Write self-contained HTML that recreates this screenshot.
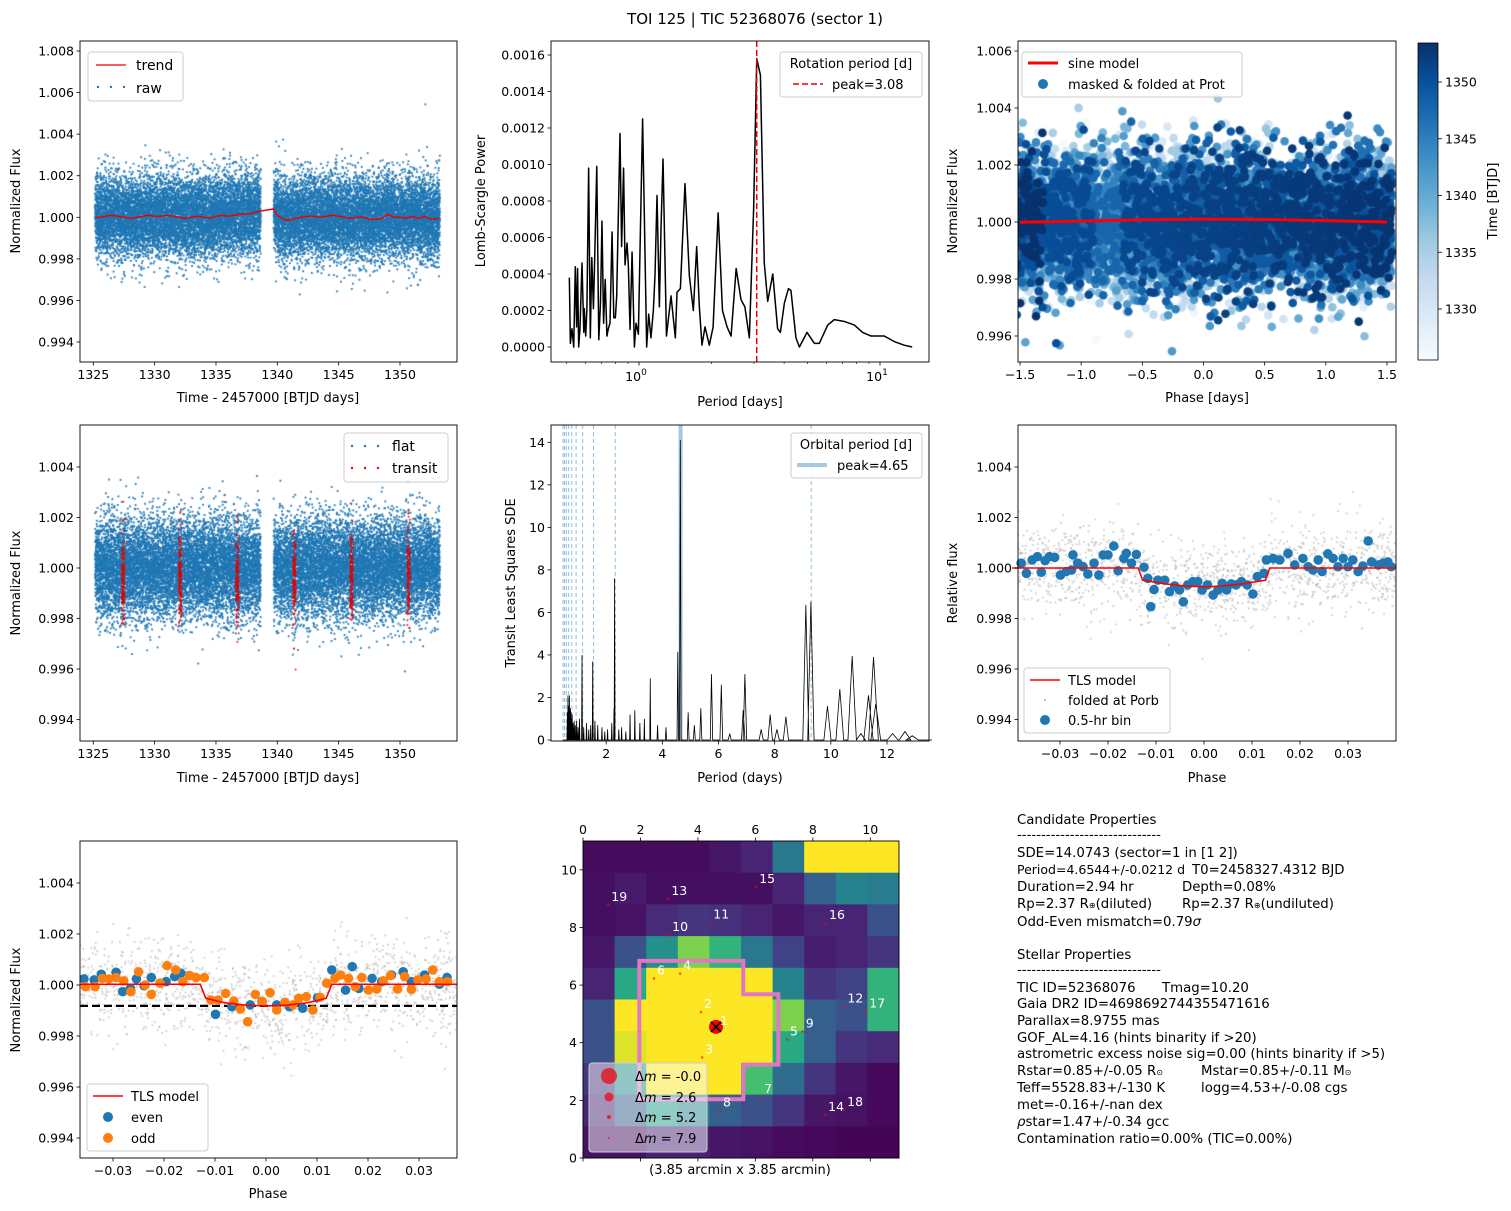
<!DOCTYPE html>
<html><head><meta charset="utf-8">
<style>
body{margin:0;background:#fff;width:1511px;height:1211px;overflow:hidden;position:relative;font-family:"DejaVu Sans","Liberation Sans",sans-serif}
canvas,svg{position:absolute;left:0;top:0}
svg text{font-family:"DejaVu Sans","Liberation Sans",sans-serif}
</style></head>
<body>
<canvas id="cv" width="1511" height="1211"></canvas>
<svg id="fig" width="1511" height="1211" xmlns="http://www.w3.org/2000/svg">
<defs>
<linearGradient id="blues" x1="0" y1="1" x2="0" y2="0">
<stop offset="0" stop-color="#f7fbff"/><stop offset="0.125" stop-color="#deebf7"/><stop offset="0.25" stop-color="#c6dbef"/><stop offset="0.375" stop-color="#9ecae1"/><stop offset="0.5" stop-color="#6baed6"/><stop offset="0.625" stop-color="#4292c6"/><stop offset="0.75" stop-color="#2171b5"/><stop offset="0.875" stop-color="#08519c"/><stop offset="1" stop-color="#08306b"/>
</linearGradient>
<clipPath id="clip7"><rect x="80" y="841" width="377" height="317"/></clipPath>
</defs>
<text x="755" y="24" font-size="15" text-anchor="middle">TOI 125 | TIC 52368076 (sector 1)</text>
<g font-size="13.3">
<text x="1017" y="824">Candidate Properties</text>
<text x="1017" y="839">------------------------------</text>
<text x="1017" y="857">SDE=14.0743 (sector=1 in [1 2])</text>
<text x="1017" y="874" font-size="12.5">Period=4.6544+/-0.0212 d</text>
<text x="1192" y="874">T0=2458327.4312 BJD</text>
<text x="1017" y="891">Duration=2.94 hr<tspan x="1182">Depth=0.08%</tspan></text>
<text x="1017" y="908">Rp=2.37 R<tspan font-size="8">⊕</tspan>(diluted)<tspan x="1182">Rp=2.37 R</tspan><tspan font-size="8">⊕</tspan>(undiluted)</text>
<text x="1017" y="926">Odd-Even mismatch=0.79<tspan font-style="italic">σ</tspan></text>
<text x="1017" y="959">Stellar Properties</text>
<text x="1017" y="974">------------------------------</text>
<text x="1017" y="992">TIC ID=52368076<tspan x="1162">Tmag=10.20</tspan></text>
<text x="1017" y="1008">Gaia DR2 ID=4698692744355471616</text>
<text x="1017" y="1025">Parallax=8.9755 mas</text>
<text x="1017" y="1042">GOF_AL=4.16 (hints binarity if &gt;20)</text>
<text x="1017" y="1058">astrometric excess noise sig=0.00 (hints binarity if &gt;5)</text>
<text x="1017" y="1075">Rstar=0.85+/-0.05 R<tspan font-size="8">⊙</tspan><tspan x="1201">Mstar=0.85+/-0.11 M</tspan><tspan font-size="8">⊙</tspan></text>
<text x="1017" y="1092">Teff=5528.83+/-130 K<tspan x="1201">logg=4.53+/-0.08 cgs</tspan></text>
<text x="1017" y="1109">met=-0.16+/-nan dex</text>
<text x="1017" y="1126"><tspan font-style="italic">ρ</tspan>star=1.47+/-0.34 gcc</text>
<text x="1017" y="1143">Contamination ratio=0.00% (TIC=0.00%)</text>
</g>
</svg>
<script>
// ---------- data ----------
const trendTime=[1325.2,1325.5,1326,1326.5,1327,1327.5,1328,1328.5,1329,1329.5,1330,1330.5,1331,1331.5,1332,1332.5,1333,1333.5,1334,1334.5,1335,1335.5,1336,1336.5,1337,1337.5,1338,1338.6,1339.7,1340,1340.5,1341,1341.5,1342,1342.5,1343,1343.5,1344,1344.5,1345,1345.5,1346,1346.5,1347,1347.5,1348,1348.5,1349,1349.5,1350,1350.5,1351,1351.5,1352,1352.5,1353.2];
const trendVal=[0,0,0.5,1,0.5,0,-0.5,0,0.5,1,0.5,0.5,1,0.5,0,-0.5,0,0.5,0,-0.5,0.5,1,0.5,1,1.5,1.5,2,3,4,1,-1,-1.5,-0.5,0,0.5,0.5,0,0.5,1,0.5,0,-0.5,0,0,-1,-1,-0.5,1.5,0,0,-0.5,0.5,-0.5,0.5,-1,-0.5];
const lsPeriod=[0.514,0.519,0.527,0.536,0.544,0.551,0.556,0.562,0.569,0.580,0.590,0.593,0.601,0.608,0.618,0.628,0.637,0.647,0.655,0.668,0.681,0.692,0.702,0.713,0.724,0.736,0.746,0.758,0.773,0.786,0.798,0.808,0.834,0.847,0.863,0.875,0.892,0.903,0.918,0.936,0.957,0.972,0.994,1.035,1.076,1.097,1.121,1.147,1.165,1.188,1.215,1.234,1.258,1.30,1.358,1.415,1.438,1.485,1.552,1.618,1.681,1.735,1.780,1.825,1.879,1.958,2.03,2.13,2.22,2.32,2.41,2.53,2.65,2.75,2.87,2.99,3.08,3.19,3.31,3.42,3.59,3.76,3.86,4.01,4.17,4.27,4.48,4.63,4.98,5.34,5.60,6.07,6.46,7.11,7.83,8.47,9.18,10.42,11.46,12.6,13.6];
const lsPower=[3.8,0.2,1.0,0.0,4.4,1.1,4.3,0.0,1.0,4.6,0.8,2.1,0.6,2.1,9.8,0.5,4.9,2.1,4.9,9.9,0.4,2.4,6.9,1.3,3.7,0.6,1.0,1.3,6.3,1.6,1.6,2.8,11.7,5.5,9.8,4.5,5.7,4.5,0.96,5.2,0.0,1.3,0.7,12.5,0.0,1.8,0.5,2.0,3.9,8.3,2.2,6.5,10.3,0.6,2.8,0.5,3.0,3.2,8.95,3.9,2.0,5.5,2.2,0.1,1.1,0.1,1.1,7.35,2.0,1.1,0.6,4.3,2.6,2.2,0.5,7.6,15.8,14.9,4.6,2.5,4.0,1.0,0.8,2.4,3.2,3.1,0.5,0.0,0.8,0.2,0.2,1.2,1.5,1.4,1.2,0.8,0.6,0.6,0.3,0.1,0.0];
const rotationPeriod=3.08;
const sdePeriod=[0.62,0.64,0.66,0.69,0.71,0.73,0.75,0.77,0.79,0.82,0.86,0.9,0.95,1.0,1.05,1.14,1.2,1.3,1.38,1.45,1.52,1.6,1.7,1.85,1.95,2.05,2.2,2.28,2.30,2.45,2.55,2.7,2.85,3.02,3.2,3.36,3.57,3.83,4.13,4.55,4.64,4.92,5.14,5.37,5.75,6.10,6.4,6.88,6.94,7.52,7.84,8.08,8.40,9.11,9.29,9.88,10.32,10.76,11.07,11.34,11.52,11.6,12.2,12.64,12.9];
const sdeValue=[1.3,2.1,1.6,2.1,1.4,1.5,1.3,1.0,1.2,0.8,0.9,0.7,0.9,0.6,1.0,4.0,0.6,0.8,0.5,0.7,3.7,0.9,0.7,0.6,0.4,0.5,0.8,1.5,7.6,0.5,0.6,0.4,1.2,1.4,0.8,1.0,2.9,0.7,0.6,4.15,14.1,1.3,0.7,1.5,3.1,2.6,0.3,1.4,3.1,0.5,1.2,0.5,1.1,6.35,6.5,1.6,2.4,3.95,0.3,2.1,3.9,1.7,0.3,0.4,0.2];
const orbitalPeriod=4.65;
const harmonicDivisors=[2,3,4,5,6,7,8,9,10];
const sinePhase=[-1.5,-1.0,-0.5,0,0.5,1.0,1.5];
const sineFlux=[-0.1,0.3,0.8,1.0,0.9,0.5,0.0];
const binPhase=[-38.1,-37.0,-35.8,-34.7,-33.9,-33.1,-32.2,-31.1,-29.9,-28.7,-27.6,-27.3,-26.3,-25.2,-24.2,-22.9,-21.9,-21.0,-20.0,-18.8,-17.9,-16.7,-16.2,-15.1,-14.1,-12.5,-11.7,-11.1,-10.4,-9.6,-8.2,-7.2,-6.1,-5.1,-4.3,-3.4,-2.3,-1.3,-0.4,0.7,1.9,2.9,3.8,4.7,5.7,6.7,7.8,9.0,10.2,11.1,12.5,13.0,14.4,15.8,17.5,18.9,20.6,21.7,22.7,23.8,24.6,25.8,26.9,27.9,29.0,30.0,31.0,32.1,33.1,34.2,34.9,36.3,37.3,38.3,39.0];
const binFlux=[1.9,-2.1,3.2,4.5,-1.7,2.9,4.5,4.2,-2.8,-1.4,-0.8,5.2,1.9,0.5,-2.4,1.9,-2.8,5.2,5.2,8.7,-1.1,3.8,5.8,1.9,5.4,0.3,-4.1,-15.3,-8.5,-4.8,-4.8,-9.4,-7.1,-8.7,-13.4,-6.7,-5.4,-5.4,-8.7,-6.7,-10.7,-8.7,-6.1,-8.7,-6.3,-6.7,-5.4,-6.7,-10.3,-3.4,-2.1,3.2,3.8,3.2,5.8,1.2,3.8,0.5,-0.8,3.2,-1.4,5.6,3.8,0.5,3.8,0.5,3.2,-1.4,0.8,10.7,2.4,1.2,1.9,2.4,0.5];
const modelPhase=[-40,-13.7,-12.8,-8,-4,0,4,8,12.8,13.7,40];
const modelFlux=[0,0,-4.8,-6.3,-7.1,-7.5,-7.1,-6.3,-4.8,0,0];
const evenPhase=[-35.7,-33.7,-32.3,-29.4,-28.1,-26.6,-25.4,-23.9,-22.5,-19.6,-17.9,-16.7,-15.0,-9.9,-6.7,-3.1,-0.8,2.1,4.6,7.2,10.1,12.9,15.6,16.9,18.2,20.8,22.7,24.6,26.9,28.5,31.1,34.0,35.5];
const evenFlux=[2.4,2.0,4.2,5.0,-2.6,-1.3,2.4,-0.3,2.9,1.3,3.3,4.6,3.7,-11.5,-8.5,-7.8,-6.5,-7.8,-8.5,-9.1,-5.0,5.9,-2.0,7.2,-1.3,2.6,1.3,3.9,5.2,1.3,3.9,0.3,2.9];
const oddPhase=[-35.4,-33.5,-32.1,-30.8,-29.4,-27.9,-26.5,-25.0,-23.7,-22.5,-20.8,-19.4,-17.7,-16.3,-15.0,-13.7,-12.1,-10.8,-9.4,-7.9,-6.3,-5.0,-3.6,-2.1,-0.7,0.8,2.1,3.7,5.3,6.4,7.9,9.2,10.6,11.9,13.5,14.6,16.2,17.5,18.8,20.1,21.7,23.0,24.4,25.8,27.2,28.5,29.8,31.4,32.7,34.0,35.6];
const oddFlux=[-0.7,-0.7,2.6,2.4,2.9,1.6,-2.6,5.2,0,-3.7,0.7,7.6,5.9,1.3,3.7,2.9,2.9,-5.9,-5.9,-3.3,-6.3,-9.4,-14.4,-3.7,-6.5,-3.0,-9.8,-6.8,-7.8,-5.2,-4.6,-9.8,-4.8,0.7,2.6,3.9,2.6,-0.7,2.9,-2.0,-1.6,1.6,3.7,-1.6,3.3,-1.7,2.0,2.4,5.9,1.3,1.3];
const eoModelPhase=[-40,-12.9,-11.8,-8,-4,0,4,8,11.8,12.9,40];
const eoModelFlux=[0.3,0.3,-5.2,-7.0,-7.9,-8.2,-7.9,-7.0,-5.2,0.3,0.3];
const transitDepthLine=-8.2;
const transitTimes=[1327.43,1332.08,1336.74,1341.39,1346.05,1350.70];
const tpfGrid=[
[.03,.03,.03,.03,.06,.1,.4,1,1,1],
[.04,.07,.04,.04,.04,.04,.1,.3,.45,.42],
[.04,.05,.12,.15,.14,.1,.06,.1,.1,.25],
[.06,.25,.5,.8,.65,.4,.2,.08,.1,.15],
[.1,.6,1,1,1,1,.45,.15,.2,.65],
[.25,1,1,1,1,1,.8,.3,.25,.65],
[.25,.95,1,1,1,1,.6,.3,.15,.12],
[.15,.5,1,1,1,.7,.35,.15,.06,.02],
[.1,.3,.55,.45,.3,.25,.15,.06,.05,.02],
[.05,.05,.1,.1,.06,.05,.03,.02,.01,.01]];
const apertureX=[1.96,5.58,5.58,6.8,6.8,5.58,5.58,1.96,1.96];
const apertureY=[6.84,6.84,5.68,5.68,3.24,3.24,2.04,2.04,6.84];
const starX=[4.63,4.11,4.15,3.38,7.1,2.47,6.2,4.77,7.65,3.0,4.43,9.1,2.97,8.43,6.03,8.46,9.86,9.09,0.88];
const starY=[4.55,5.06,3.49,6.4,4.11,6.23,2.11,1.64,4.39,7.73,8.18,5.25,8.99,1.5,9.4,8.15,5.09,1.67,8.78];
const dmagLabels=['-0.0','2.6','5.2','7.9'];

// ---------- helpers ----------
const NS='http://www.w3.org/2000/svg';
const fig=document.getElementById('fig');
const ctx=document.getElementById('cv').getContext('2d');
function lin(d0,d1,r0,r1){return v=>r0+(v-d0)*(r1-r0)/(d1-d0);}
function mk(parent,tag,attrs,name,inter){
  const el=document.createElementNS(NS,tag);
  for(const k in attrs) el.setAttribute(k,attrs[k]);
  
  
  parent.appendChild(el);return el;
}
function txt(parent,x,y,s,size,anchor,name){
  const t=mk(parent,'text',{x:x,y:y,'font-size':size,'text-anchor':anchor},name,false);
  t.textContent=s;return t;
}
function fmt(d){return v=>v.toFixed(d).replace('-','\u2212');}
function range(a,b,s){const r=[];for(let i=0;a+i*s<=b+s*1e-6;i++)r.push(+(a+i*s).toFixed(6));return r;}
function frame(g,b){mk(g,'rect',{x:b[0],y:b[1],width:b[2]-b[0],height:b[3]-b[1],fill:'none',stroke:'#000','stroke-width':0.9},'axes-frame',false);}
function xticks(g,b,vals,sx,f){vals.forEach(v=>{const x=sx(v);
  mk(g,'line',{x1:x,x2:x,y1:b[3],y2:b[3]+3.5,stroke:'#000','stroke-width':0.8},'x-tick',false);
  if(f) txt(g,x,b[3]+17,f(v),12.5,'middle','x-tick-label');});}
function yticks(g,b,vals,sy,f){vals.forEach(v=>{const y=sy(v);
  mk(g,'line',{x1:b[0]-3.5,x2:b[0],y1:y,y2:y,stroke:'#000','stroke-width':0.8},'y-tick',false);
  if(f) txt(g,b[0]-6,y+4.5,f(v),12.5,'end','y-tick-label');});}
function xlabel(g,x,y,s){txt(g,x,y,s,13,'middle','x-axis-title');}
function ylabel(g,x,y,s){const t=txt(g,x,y,s,13,'middle','y-axis-title');t.setAttribute('transform','rotate(-90 '+x+' '+y+')');}
function pathD(xs,ys,sx,sy){return xs.map((v,i)=>(i?'L':'M')+sx(v).toFixed(2)+','+sy(ys[i]).toFixed(2)).join(' ');}
function legendBox(g,x0,y0,x1,y1,op){mk(g,'rect',{x:x0,y:y0,width:x1-x0,height:y1-y0,rx:3,fill:'#fff','fill-opacity':op,stroke:'#ccc','stroke-width':1},'legend-box',false);}
function interp(xs,ys,x){if(x<=xs[0])return ys[0];for(let i=1;i<xs.length;i++){if(x<=xs[i]){const f=(x-xs[i-1])/(xs[i]-xs[i-1]);return ys[i-1]+f*(ys[i]-ys[i-1]);}}return ys[ys.length-1];}
function hexLerp(stops,t){t=Math.max(0,Math.min(1,t));const n=stops.length-1;const i=Math.min(n-1,Math.floor(t*n));const f=t*n-i;
  const a=stops[i],b=stops[i+1];const c=[0,1,2].map(k=>{const p=parseInt(a.substr(1+2*k,2),16),q=parseInt(b.substr(1+2*k,2),16);return Math.round(p+(q-p)*f);});
  return 'rgb('+c.join(',')+')';}
const BLUES=['#f7fbff','#deebf7','#c6dbef','#9ecae1','#6baed6','#4292c6','#2171b5','#08519c','#08306b'];
const VIRIDIS=['#440154','#482878','#3e4989','#31688e','#26828e','#1f9e89','#35b779','#6ece58','#b5de2b','#fde725'];
let seed=12345;
function rnd(){seed|=0;seed=seed+0x6D2B79F5|0;let t=Math.imul(seed^seed>>>15,1|seed);t=t+Math.imul(t^t>>>7,61|t)^t;return((t^t>>>14)>>>0)/4294967296;}
function gauss(){const u=rnd()||1e-9,v=rnd();return Math.sqrt(-2*Math.log(u))*Math.cos(2*Math.PI*v);}
function clip(b){ctx.save();ctx.beginPath();ctx.rect(b[0],b[1],b[2]-b[0],b[3]-b[1]);ctx.clip();}
const T_START=1325.15, T_END=1353.25;
function inGap(t){return t>1338.65&&t<1339.7;}
function inTransit(t,w){return transitTimes.some(c=>Math.abs(t-c)<w);}

// ---------- Panel 1: raw light curve ----------
(function(){
 const b=[80,41,457,362];const g=mk(fig,'g',{},'raw-lightcurve-panel',false);
 const sx=lin(1325,1350,93.3,400), sy=lin(1.000,1.008,217.3,51);
 clip(b);ctx.fillStyle='#1f77b4';
 for(let t=T_START;t<T_END;t+=0.0014){if(inGap(t))continue;
   const f=1+interp(trendTime,trendVal,t)*1e-4+gauss()*0.00098;ctx.fillRect(sx(t)-0.9,sy(f)-0.9,1.8,1.8);}
 ctx.restore();
 mk(g,'path',{d:pathD(trendTime,trendVal.map(v=>1+v*1e-4),sx,sy),fill:'none',stroke:'#e00','stroke-width':1.5},'trend-line',false);
 frame(g,b);xticks(g,b,range(1325,1350,5),sx,fmt(0));yticks(g,b,range(0.994,1.008,0.002),sy,fmt(3));
 xlabel(g,268,402,'Time - 2457000 [BTJD days]');ylabel(g,20,201,'Normalized Flux');
 legendBox(g,88,52,183,101,0.8);
 mk(g,'line',{x1:96,x2:126,y1:65,y2:65,stroke:'#e00','stroke-width':1.2},'legend-trend-line',false);
 txt(g,136,70,'trend',14,'start','legend-trend-label');
 [98,111,124].forEach(x=>mk(g,'circle',{cx:x,cy:87,r:1.2,fill:'#1f77b4'},'legend-raw-dot',false));
 txt(g,136,93,'raw',14,'start','legend-raw-label');
})();

// ---------- Panel 2: Lomb-Scargle ----------
(function(){
 const b=[551,41,929,362];const g=mk(fig,'g',{},'periodogram-panel',false);
 const sx=p=>639+241*Math.log10(p), sy=lin(0,0.0016,347,55);
 mk(g,'path',{d:pathD(lsPeriod,lsPower.map(v=>v*1e-4),sx,sy),fill:'none',stroke:'#000','stroke-width':1.5,'stroke-linejoin':'round'},'periodogram-line',false);
 mk(g,'line',{x1:sx(rotationPeriod),x2:sx(rotationPeriod),y1:b[1],y2:b[3],stroke:'#e00','stroke-width':1.5,'stroke-dasharray':'6,3'},'rotation-peak-line',false);
 frame(g,b);
 [0.5,0.6,0.7,0.8,0.9,2,3,4,5,6,7,8,9].forEach(p=>mk(g,'line',{x1:sx(p),x2:sx(p),y1:b[3],y2:b[3]+2,stroke:'#000','stroke-width':0.6},'x-minor-tick',false));
 [1,10].forEach((p,i)=>{mk(g,'line',{x1:sx(p),x2:sx(p),y1:b[3],y2:b[3]+3.5,stroke:'#000','stroke-width':0.8},'x-tick',false);
   const t=txt(g,sx(p)-3,b[3]+19,'10',12.5,'middle','x-tick-label');const s=document.createElementNS(NS,'tspan');s.setAttribute('dy','-6');s.setAttribute('font-size','9');s.textContent=String(i);t.appendChild(s);});
 yticks(g,b,range(0,0.0016,0.0002),sy,fmt(4));
 xlabel(g,740,406,'Period [days]');ylabel(g,485,201,'Lomb-Scargle Power');
 legendBox(g,780,52,922,97,0.8);
 txt(g,851,68,'Rotation period [d]',13,'middle','legend-title');
 mk(g,'line',{x1:793,x2:823,y1:84,y2:84,stroke:'#e00','stroke-width':1.5,'stroke-dasharray':'6,3'},'legend-peak-line',false);
 txt(g,832,89,'peak=3.08',13,'start','legend-peak-label');
})();

// ---------- Panel 3: folded at Prot ----------
(function(){
 const b=[1018,41,1396,362];const g=mk(fig,'g',{},'folded-rotation-panel',false);
 const sx=lin(-1.5,1.5,1020,1387), sy=lin(1.000,1.006,222,51);
 clip(b);
 for(let t=T_START;t<T_END;t+=0.0026){if(inGap(t)||inTransit(t,0.12))continue;
   const ph=((t-1325.3)%3.08)-1.54;const f=1+gauss()*0.00115;
   ctx.fillStyle=hexLerp(BLUES,(t-1325.5)/(1353.4-1325.5));
   ctx.beginPath();ctx.arc(sx(ph),sy(f),4.3,0,6.2832);ctx.fill();}
 ctx.restore();
 mk(g,'path',{d:pathD(sinePhase,sineFlux.map(v=>1+v*1e-4),sx,sy),fill:'none',stroke:'#f00','stroke-width':3},'sine-model-line',false);
 frame(g,b);xticks(g,b,range(-1.5,1.5,0.5),sx,fmt(1));yticks(g,b,range(0.996,1.006,0.002),sy,fmt(3));
 xlabel(g,1207,402,'Phase [days]');ylabel(g,957,201,'Normalized Flux');
 legendBox(g,1022,52,1242,97,0.8);
 mk(g,'line',{x1:1028,x2:1058,y1:63,y2:63,stroke:'#f00','stroke-width':3},'legend-sine-line',false);
 txt(g,1068,68,'sine model',13,'start','legend-sine-label');
 mk(g,'circle',{cx:1043,cy:84,r:5,fill:'#1f77b4'},'legend-folded-dot',false);
 txt(g,1068,89,'masked & folded at Prot',13,'start','legend-folded-label');
 const cy=lin(1330,1350,309,82);
 mk(g,'rect',{x:1418,y:43,width:20,height:317,fill:'url(#blues)',stroke:'#000','stroke-width':0.8},'colorbar',false);
 [1330,1335,1340,1345,1350].forEach(v=>{mk(g,'line',{x1:1438,x2:1442,y1:cy(v),y2:cy(v),stroke:'#000','stroke-width':0.8},'colorbar-tick',false);
   txt(g,1445,cy(v)+4.5,String(v),12.5,'start','colorbar-tick-label');});
 ylabel(g,1497,201,'Time [BTJD]');
})();

// ---------- Panel 4: flattened ----------
(function(){
 const b=[80,425,457,741];const g=mk(fig,'g',{},'flattened-lightcurve-panel',false);
 const sx=lin(1325,1350,93.3,400), sy=lin(1.000,1.004,568,467);
 clip(b);ctx.fillStyle='#1f77b4';
 for(let t=T_START;t<T_END;t+=0.0014){if(inGap(t))continue;ctx.fillRect(sx(t)-0.9,sy(1+gauss()*0.00098)-0.9,1.8,1.8);}
 ctx.fillStyle='#e00000';
 transitTimes.forEach(c=>{for(let t=c-0.12;t<c+0.12;t+=0.0016){ctx.fillRect(sx(t)-0.8,sy(1-0.0004+gauss()*0.0009)-0.8,1.6,1.6);}});
 ctx.restore();
 frame(g,b);xticks(g,b,range(1325,1350,5),sx,fmt(0));yticks(g,b,range(0.994,1.004,0.002),sy,fmt(3));
 xlabel(g,268,782,'Time - 2457000 [BTJD days]');ylabel(g,20,583,'Normalized Flux');
 legendBox(g,344,433,448,482,0.8);
 [352,365,378].forEach(x=>mk(g,'circle',{cx:x,cy:446,r:1.2,fill:'#1f77b4'},'legend-flat-dot',false));
 txt(g,392,451,'flat',14,'start','legend-flat-label');
 [352,365,378].forEach(x=>mk(g,'circle',{cx:x,cy:468,r:1.2,fill:'#e00'},'legend-transit-dot',false));
 txt(g,392,473,'transit',14,'start','legend-transit-label');
})();

// ---------- Panel 5: TLS SDE ----------
(function(){
 const b=[551,425,929,741];const g=mk(fig,'g',{},'tls-periodogram-panel',false);
 const sx=lin(0,12,550,887), sy=lin(0,14,740,442.3);
 harmonicDivisors.forEach(n=>{const x=sx(orbitalPeriod/n);mk(g,'line',{x1:x,x2:x,y1:b[1],y2:b[3],stroke:'#8fbfe0','stroke-width':1,'stroke-dasharray':'4,3'},'harmonic-line',false);});
 const x2=sx(orbitalPeriod*2);mk(g,'line',{x1:x2,x2:x2,y1:b[1],y2:b[3],stroke:'#8fbfe0','stroke-width':1,'stroke-dasharray':'4,3'},'harmonic-line',false);
 mk(g,'line',{x1:sx(orbitalPeriod),x2:sx(orbitalPeriod),y1:b[1],y2:b[3],stroke:'#a6c9e1','stroke-width':4},'orbital-peak-line',false);
 const idx=sdePeriod.map((p,i)=>i).sort((a,c)=>sdePeriod[a]-sdePeriod[c]);
 let d='M'+sx(0.45)+','+sy(0);
 idx.forEach(i=>{const p=sdePeriod[i],w=Math.max(0.0013*p*p,0.015);
   d+=' L'+sx(p-w).toFixed(2)+','+sy(0)+' L'+sx(p).toFixed(2)+','+sy(sdeValue[i]).toFixed(2)+' L'+sx(p+w).toFixed(2)+','+sy(0);});
 d+=' L'+sx(13.6)+','+sy(0);
 mk(g,'path',{d:d,fill:'none',stroke:'#000','stroke-width':0.8},'sde-line',false);
 frame(g,b);xticks(g,b,range(2,12,2),sx,fmt(0));yticks(g,b,range(0,14,2),sy,fmt(0));
 xlabel(g,740,782,'Period (days)');ylabel(g,515,583,'Transit Least Squares SDE');
 legendBox(g,791,433,922,478,0.8);
 txt(g,856,449,'Orbital period [d]',13,'middle','legend-title');
 mk(g,'line',{x1:797,x2:827,y1:465,y2:465,stroke:'#a6c9e1','stroke-width':4},'legend-peak-line',false);
 txt(g,837,470,'peak=4.65',13,'start','legend-peak-label');
})();

// ---------- Panel 6: folded at Porb ----------
(function(){
 const b=[1018,425,1396,741];const g=mk(fig,'g',{},'folded-orbit-panel',false);
 const sx=lin(0,0.03,1204,1348), sy=lin(1.000,1.004,568,467);
 clip(b);ctx.fillStyle='rgba(160,160,160,0.55)';
 for(let i=0;i<1500;i++){const ph=-0.04+0.08*rnd();const f=1+interp(modelPhase,modelFlux,ph*1000)*1e-4+gauss()*0.0009;
   ctx.beginPath();ctx.arc(sx(ph),sy(f),1,0,6.2832);ctx.fill();}
 ctx.restore();
 binPhase.forEach((p,i)=>mk(g,'circle',{cx:sx(p/1000),cy:sy(1+binFlux[i]*1e-4),r:4.8,fill:'#1f77b4'},'bin-point',false));
 mk(g,'path',{d:pathD(modelPhase.map(v=>v/1000),modelFlux.map(v=>1+v*1e-4),sx,sy),fill:'none',stroke:'#f00','stroke-width':1.6},'tls-model-line',false);
 frame(g,b);xticks(g,b,range(-0.03,0.03,0.01),sx,fmt(2));yticks(g,b,range(0.994,1.004,0.002),sy,fmt(3));
 xlabel(g,1207,782,'Phase');ylabel(g,957,583,'Relative flux');
 legendBox(g,1024,668,1170,733,0.8);
 mk(g,'line',{x1:1030,x2:1060,y1:680,y2:680,stroke:'#f00','stroke-width':1.6},'legend-model-line',false);
 txt(g,1068,685,'TLS model',13,'start','legend-model-label');
 mk(g,'circle',{cx:1045,cy:700,r:1,fill:'#aaa'},'legend-folded-dot',false);
 txt(g,1068,705,'folded at Porb',13,'start','legend-folded-label');
 mk(g,'circle',{cx:1045,cy:720,r:5,fill:'#1f77b4'},'legend-bin-dot',false);
 txt(g,1068,725,'0.5-hr bin',13,'start','legend-bin-label');
})();

// ---------- Panel 7: odd/even ----------
(function(){
 const b=[80,841,457,1158];const g=mk(fig,'g',{},'odd-even-panel',false);
 const sx=lin(0,0.01,266,317), sy=lin(1.000,1.004,985,883);
 clip(b);ctx.fillStyle='rgba(160,160,160,0.55)';
 for(let i=0;i<1500;i++){const ph=-0.04+0.08*rnd();const f=1+interp(eoModelPhase,eoModelFlux,ph*1000)*1e-4+gauss()*0.0009;
   ctx.beginPath();ctx.arc(sx(ph),sy(f),1,0,6.2832);ctx.fill();}
 ctx.restore();
 const cg=mk(g,'g',{'clip-path':'url(#clip7)'},'odd-even-plot-area',false);
 mk(cg,'line',{x1:b[0],x2:b[2],y1:sy(1+transitDepthLine*1e-4),y2:sy(1+transitDepthLine*1e-4),stroke:'#000','stroke-width':2.2,'stroke-dasharray':'8,4'},'depth-line',false);
 evenPhase.forEach((p,i)=>mk(cg,'circle',{cx:sx(p/1000),cy:sy(1+evenFlux[i]*1e-4),r:4.8,fill:'#1f77b4'},'even-point',false));
 oddPhase.forEach((p,i)=>mk(cg,'circle',{cx:sx(p/1000),cy:sy(1+oddFlux[i]*1e-4),r:4.8,fill:'#ff7f0e'},'odd-point',false));
 mk(cg,'path',{d:pathD(eoModelPhase.map(v=>v/1000),eoModelFlux.map(v=>1+v*1e-4),sx,sy),fill:'none',stroke:'#f00','stroke-width':1.6},'tls-model-line',false);
 frame(g,b);xticks(g,b,range(-0.03,0.03,0.01),sx,fmt(2));yticks(g,b,range(0.994,1.004,0.002),sy,fmt(3));
 xlabel(g,268,1198,'Phase');ylabel(g,20,1000,'Normalized Flux');
 legendBox(g,87,1084,208,1151,0.8);
 mk(g,'line',{x1:93,x2:123,y1:1096,y2:1096,stroke:'#f00','stroke-width':1.6},'legend-model-line',false);
 txt(g,131,1101,'TLS model',13,'start','legend-model-label');
 mk(g,'circle',{cx:108,cy:1117,r:5,fill:'#1f77b4'},'legend-even-dot',false);
 txt(g,131,1122,'even',13,'start','legend-even-label');
 mk(g,'circle',{cx:108,cy:1138,r:5,fill:'#ff7f0e'},'legend-odd-dot',false);
 txt(g,131,1143,'odd',13,'start','legend-odd-label');
})();

// ---------- Panel 8: TPF ----------
(function(){
 const b=[583,841,899,1158];const g=mk(fig,'g',{},'tpf-panel',false);
 const sx=lin(0,11,583,899), sy=lin(0,11,1158,841);
 tpfGrid.forEach((row,i)=>row.forEach((v,j)=>{
   mk(g,'rect',{x:sx(j*1.1),y:sy(11-i*1.1),width:sx(1.1)-sx(0)+0.5,height:sy(0)-sy(1.1)+0.5,fill:hexLerp(VIRIDIS,v)},'tpf-pixel',false);}));
 mk(g,'path',{d:pathD(apertureX,apertureY,sx,sy)+' Z',fill:'none',stroke:'#e377c2','stroke-width':4},'aperture-outline',false);
 starX.forEach((x,i)=>{
   mk(g,'circle',{cx:sx(x),cy:sy(starY[i]),r:i===0?7:1.3,fill:'#f00','fill-opacity':i===0?1:0.6},'gaia-star',false);
   txt(g,sx(x)+(i===0?4:3),sy(starY[i])-(i===0?2:4),String(i+1),12.5,'start','star-label').setAttribute('fill','#fff');});
 mk(g,'path',{d:'M'+(sx(starX[0])-5)+','+(sy(starY[0])-5)+' l10,10 m0,-10 l-10,10',stroke:'#000','stroke-width':1.6},'target-marker',false);
 frame(g,b);
 range(0,10,2).forEach(v=>{const x=sx(v),y=sy(v);
   mk(g,'line',{x1:x,x2:x,y1:b[1],y2:b[1]-3.5,stroke:'#000','stroke-width':0.8},'x-top-tick',false);
   txt(g,x,b[1]-7,String(v),12.5,'middle','x-top-tick-label');
   mk(g,'line',{x1:x,x2:x,y1:b[3],y2:b[3]+3.5,stroke:'#000','stroke-width':0.8},'x-tick',false);
   mk(g,'line',{x1:b[0]-3.5,x2:b[0],y1:y,y2:y,stroke:'#000','stroke-width':0.8},'y-tick',false);
   txt(g,b[0]-6,y+4.5,String(v),12.5,'end','y-tick-label');});
 xlabel(g,740,1174,'(3.85 arcmin x 3.85 arcmin)');
 legendBox(g,589,1063,707,1152,0.5);
 const ly=[1076,1097,1117,1138], lr=[8,4.5,2,1];
 dmagLabels.forEach((s,i)=>{mk(g,'circle',{cx:609,cy:ly[i],r:lr[i],fill:'#e00','fill-opacity':0.7},'legend-dmag-marker',false);
   const t=txt(g,635,ly[i]+5,'',13,'start','legend-dmag-label');t.innerHTML='Δ<tspan font-style="italic">m</tspan> = '+s;});
})();
</script>
</body></html>
